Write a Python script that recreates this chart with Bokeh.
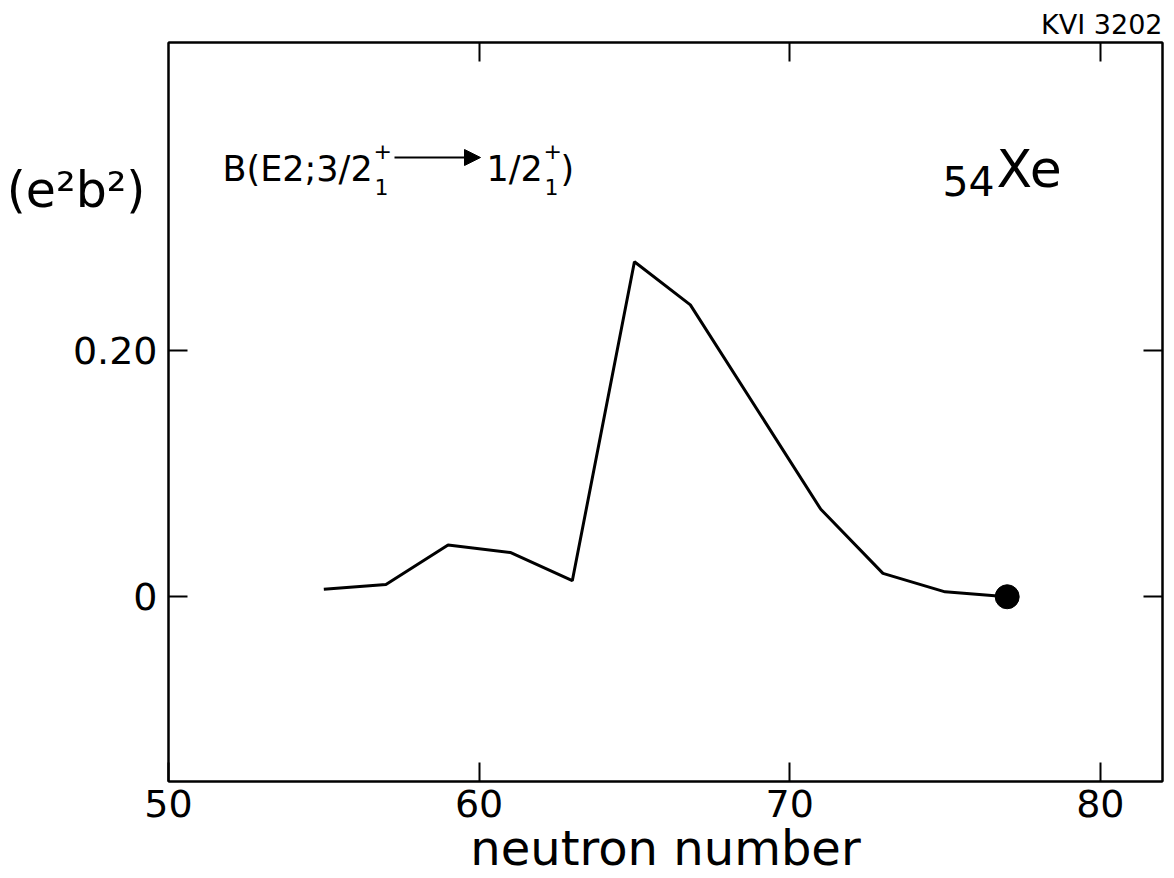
from bokeh.plotting import figure
from bokeh.models import (Range1d, LinearAxis, FixedTicker, Label, Arrow, NormalHead,
                          ColumnDataSource, CustomJSTickFormatter, Title)
from bokeh.embed import file_html
from bokeh.resources import INLINE

# ---- data ----
neutron_number = [55, 57, 59, 61, 63, 65, 66.8, 71, 73, 75, 77]
b_e2 = [0.006, 0.010, 0.042, 0.036, 0.013, 0.272, 0.237, 0.071, 0.019, 0.004, 0.0]
dot_n = [77]
dot_b = [0.0]
x_ticks = [50, 60, 70, 80]
top_ticks = [60, 70, 80]
y_ticks = [0, 0.2]
y_tick_labels = {0: "0", 0.2: "0.20"}
y_unit_text = "(e\u00b2b\u00b2)"
y_unit_pos = 0.33
x_title = "neutron number"
stamp = "KVI 3202"

FONT = "DejaVu Sans"
X0, X1 = 50, 82
Y0, Y1 = -0.15, 0.45

# frame placement on the page (px), used only to place annotations
FL, FR, FT, FB = 168, 1162, 42, 781
W, H = 1168, 878


def dx(px):
    return X0 + (px - FL) * (X1 - X0) / (FR - FL)


def dy(py):
    return Y1 - (py - FT) * (Y1 - Y0) / (FB - FT)


p = figure(width=W, height=H, output_backend="svg", toolbar_location=None,
           x_range=Range1d(X0, X1), y_range=Range1d(Y0, Y1),
           min_border_left=FL, min_border_top=FT,
           min_border_right=W - FR, min_border_bottom=H - FB,
           background_fill_color="white", border_fill_color="white")
p.grid.visible = False
p.outline_line_color = "black"
p.outline_line_width = 2


def style_axis(ax, ticks, labels=True):
    ax.ticker = FixedTicker(ticks=ticks)
    ax.axis_line_color = "black"
    ax.axis_line_width = 2
    ax.major_tick_line_color = "black"
    ax.major_tick_line_width = 2
    ax.major_tick_in = 19
    ax.major_tick_out = 0
    ax.minor_tick_line_color = None
    if labels:
        ax.major_label_text_font = FONT
        ax.major_label_text_font_size = "38px"
        ax.major_label_text_color = "black"
    else:
        ax.formatter = CustomJSTickFormatter(code="return ''")
        ax.major_label_text_font_size = "0px"
        ax.major_label_standoff = 0


xb = p.xaxis[0]
style_axis(xb, x_ticks)
xb.major_label_standoff = 8
xb.axis_label = x_title
xb.axis_label_text_font = FONT
xb.axis_label_text_font_size = "48px"
xb.axis_label_text_font_style = "normal"
xb.axis_label_text_color = "black"
xb.axis_label_standoff = 0

yl = p.yaxis[0]
style_axis(yl, y_ticks)
yl.major_label_overrides = y_tick_labels
yl.major_label_standoff = 11

# outer left "axis" carrying only the unit text
yu = LinearAxis(ticker=FixedTicker(ticks=[y_unit_pos]),
                formatter=CustomJSTickFormatter(code="return '%s'" % y_unit_text))
yu.axis_line_color = None
yu.major_tick_line_color = None
yu.major_tick_in = 0
yu.major_tick_out = 0
yu.minor_tick_line_color = None
yu.major_label_text_font = FONT
yu.major_label_text_font_size = "49px"
yu.major_label_text_color = "black"
yu.major_label_standoff = -76
p.add_layout(yu, "left")

xt = LinearAxis()
style_axis(xt, top_ticks, labels=False)
p.add_layout(xt, "above")
yr = LinearAxis()
style_axis(yr, y_ticks, labels=False)
p.add_layout(yr, "right")

p.add_layout(Title(text=stamp, align="right", text_font=FONT, text_font_size="27px",
                   text_font_style="normal", text_color="black", standoff=6), "above")

src = ColumnDataSource(dict(n=neutron_number, b=b_e2))
p.line("n", "b", source=src, line_color="black", line_width=3)
p.scatter(dot_n, dot_b, size=24, marker="circle", fill_color="black", line_color="black")


def lab(text, px, py, size, align="left", baseline="alphabetic"):
    p.add_layout(Label(x=dx(px), y=dy(py), text=text, text_font=FONT,
                       text_font_size=f"{size}px", text_align=align,
                       text_baseline=baseline, text_color="black"))


# element label
lab("54", 942, 180, 41)
lab("Xe", 996, 168, 52)

# B(E2; 3/2+_1 -> 1/2+_1)
lab("B(E2;3/2", 222, 168, 35)
lab("+", 373, 150, 22)
lab("1", 374, 186, 22)
p.add_layout(Arrow(x_start=dx(394), y_start=dy(157), x_end=dx(480), y_end=dy(157),
                   line_width=2, line_color="black",
                   end=NormalHead(size=16, fill_color="black", line_color="black")))
lab("1/2", 486, 168, 35)
lab("+", 543, 150, 22)
lab("1", 544, 186, 22)
lab(")", 560, 168, 35)

open("out.html", "w").write(file_html(p, INLINE))
